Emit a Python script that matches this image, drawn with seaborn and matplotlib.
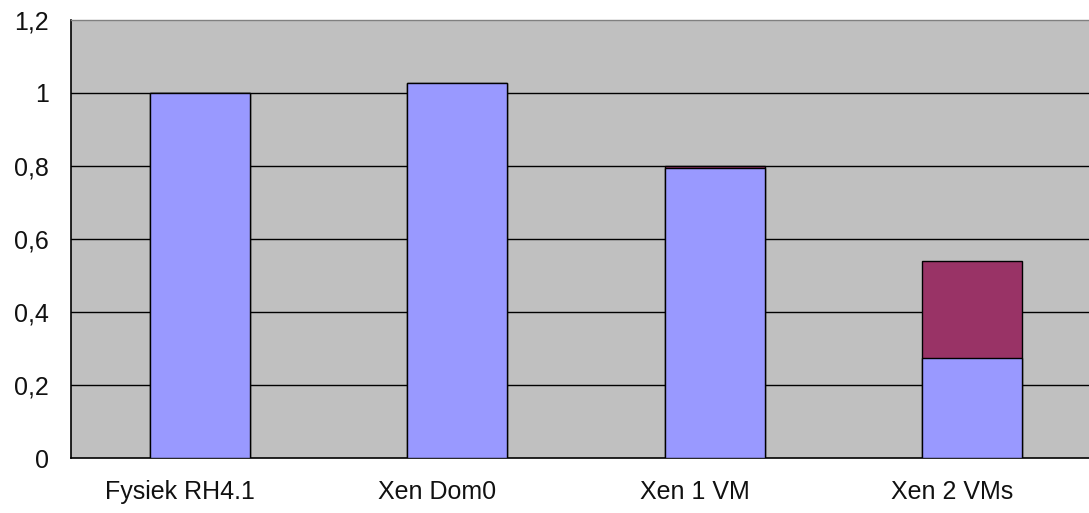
import matplotlib
matplotlib.use("Agg")
import matplotlib.pyplot as plt
import matplotlib.transforms as mtransforms
import seaborn as sns
import pandas as pd
import numpy as np

categories = ["Fysiek RH4.1", "Xen Dom0", "Xen 1 VM", "Xen 2 VMs"]
series1 = [1.0, 1.027, 0.795, 0.275]
series2 = [0.0, 0.0, 0.004, 0.266]
yticks = [0, 0.2, 0.4, 0.6, 0.8, 1.0, 1.2]
ytick_labels = ["0", "0,2", "0,4", "0,6", "0,8", "1", "1,2"]

sns.set_theme(style="white")
plt.rcParams['font.family'] = ['Liberation Sans', 'DejaVu Sans']

df = pd.DataFrame({"cat": categories, "s1": series1,
                   "total": [a + b for a, b in zip(series1, series2)]})

fig = plt.figure(figsize=(10.89, 5.13), dpi=100)
ax = fig.add_axes([71/1089, 55/513, 1030/1089, 438/513])
ax.set_facecolor("#C0C0C0")

sns.barplot(data=df, x="cat", y="total", color="#993366", saturation=1,
            width=0.39, edgecolor="black", linewidth=1, ax=ax, zorder=3)
sns.barplot(data=df, x="cat", y="s1", color="#9999FF", saturation=1,
            width=0.39, edgecolor="black", linewidth=1, ax=ax, zorder=4)

ax.set_xlim(-0.5, 3.5)
ax.set_ylim(0, 1.2)
ax.set_yticks(yticks)
ax.set_yticklabels(ytick_labels, fontsize=18, color="#111111")
for y in yticks[1:-1]:
    ax.axhline(y, color="black", linewidth=1, zorder=1)

ax.set_xticks(range(len(categories)))
ax.set_xticklabels(categories, fontsize=18, color="#111111")
ax.set_xticks([-0.5, 0.5, 1.5, 2.5, 3.5], minor=True)
ax.tick_params(axis="x", which="major", length=0, pad=16)
ax.tick_params(axis="x", which="minor", length=6, width=1, color="black", direction="out")
ax.tick_params(axis="y", length=6, width=1, color="black", direction="out", pad=10)
ax.set_xlabel("")
ax.set_ylabel("")

shift = mtransforms.ScaledTranslation(-0.2, 0, fig.dpi_scale_trans)
for lbl in ax.get_xticklabels():
    lbl.set_transform(lbl.get_transform() + shift)

for side in ["left", "bottom"]:
    ax.spines[side].set_color("black")
    ax.spines[side].set_linewidth(1.2)
ax.spines["top"].set_color("#808080")
ax.spines["top"].set_linewidth(1)
ax.spines["right"].set_visible(False)

fig.savefig("out.png", dpi=100)
